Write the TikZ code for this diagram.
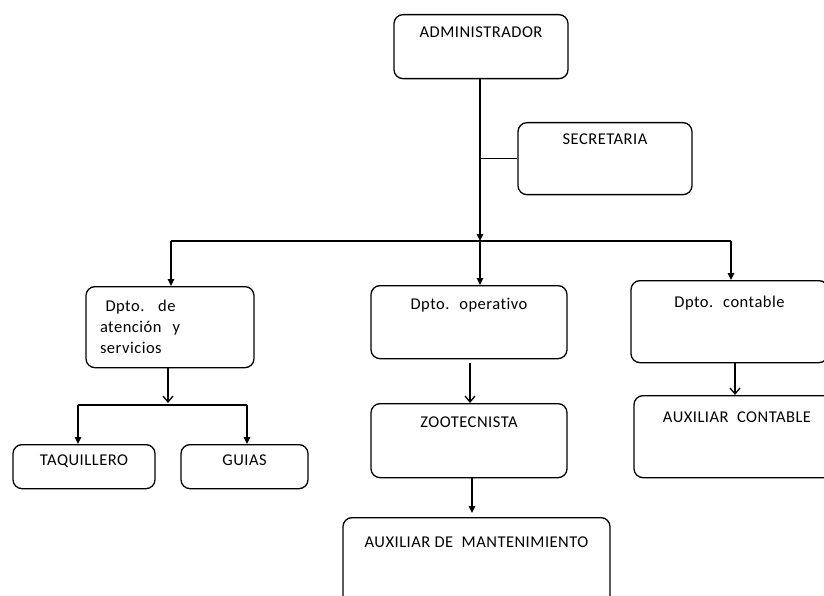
\documentclass[tikz,border=0pt]{standalone}
\usepackage{fontspec}
\setmainfont[LetterSpace=3, Ligatures=NoCommon]{Carlito}
\usetikzlibrary{arrows.meta,positioning,calc}

\begin{document}
\begin{tikzpicture}[
  x=1pt, y=-1pt,
  font=\fontsize{16.5}{21}\selectfont,
  line width=1.3pt,
  box/.style={draw, line width=1.3pt, rounded corners=9pt, inner sep=0pt, align=center},
  arr/.style={-{Triangle[length=7pt, width=6.5pt]}},
  varr/.style={-{Straight Barb[length=6pt, width=10pt]}},
]
\useasboundingbox (0,0) rectangle (824,596);
% ---------- top: administrador and secretaria ----------
\node[box, minimum width=174pt, text height=23pt, text depth=41pt] (admin) at (481,14) [anchor=north] {ADMINISTRADOR};
\node[box, minimum width=174pt, text height=22pt, text depth=50pt] (secre) at (605,122) [anchor=north] {SECRETARIA};
\coordinate (bus) at (480,241);
\coordinate (busL) at (171,241);
\coordinate (busR) at (731,241);
\draw[arr] (admin.south -| bus) -- (bus);
\draw (bus |- secre.west) -- (secre.west);
\draw (busL) -- (busR);
% ---------- departments ----------
\node[box, minimum width=168pt, minimum height=81pt, text width=140pt, align=left] (aten) at (170,286) [anchor=north]
  {~Dpto.~ de\\atención~ y\\servicios};
\node[box, minimum width=196pt, text height=24pt, text depth=49pt] (oper) at (469,285) [anchor=north] {Dpto.~ operativo};
\node[box, minimum width=197pt, text height=27pt, text depth=55pt] (conta) at (729.5,280) [anchor=north] {Dpto.~ contable};
\draw[arr] (busL) -- (aten.north -| busL);
\draw[arr] (bus) -- (bus |- oper.north);
\draw[arr] (busR) -- (busR |- conta.north);
% ---------- atencion branch ----------
\coordinate (sub) at (168,405);
\coordinate (subL) at (78,405);
\coordinate (subR) at (247,405);
\node[box, minimum width=142pt, text height=21pt, text depth=23pt] (taqui) at (84,444) [anchor=north] {TAQUILLERO};
\node[box, minimum width=127pt, text height=21pt, text depth=23pt] (guias) at (244.5,444) [anchor=north] {GUIAS};
\draw[varr] (aten.south -| sub) -- ($(sub)+(0,-2)$);
\draw (subL) -- (subR);
\draw[arr] (subL) -- (subL |- taqui.north);
\draw[arr] (subR) -- (subR |- guias.north);
% ---------- operativo branch ----------
\node[box, minimum width=196pt, text height=24pt, text depth=50pt] (zoo) at (469,403) [anchor=north] {ZOOTECNISTA};
\node[box, minimum width=267pt, text height=30pt, text depth=60pt] (mant) at (476.5,517) [anchor=north] {AUXILIAR DE~ MANTENIMIENTO};
\draw[varr] (oper.south) ++(1,4) coordinate (o1) -- (o1 |- zoo.north);
\draw[arr] (zoo.south) ++(3,0) coordinate (z1) -- ($(z1 |- mant.north)+(0,-4)$);
% ---------- contable branch ----------
\node[box, minimum width=206pt, text height=27pt, text depth=55pt] (auxc) at (737,395) [anchor=north] {AUXILIAR~ CONTABLE};
\draw[varr] (conta.south -| busR) ++(4,0) coordinate (c1) -- (c1 |- auxc.north);
\end{tikzpicture}
\end{document}
